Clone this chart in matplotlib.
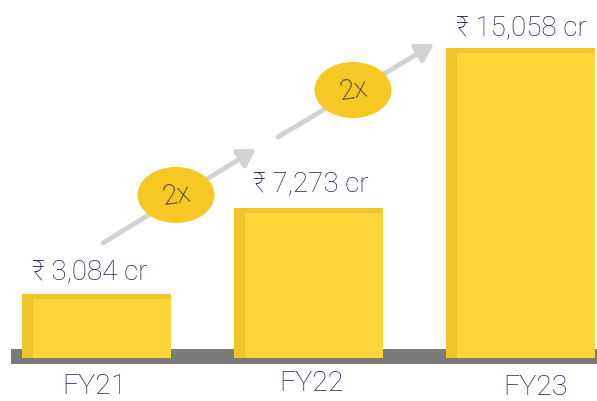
import matplotlib
matplotlib.use("Agg")
import matplotlib.pyplot as plt
from matplotlib.patches import Ellipse, Rectangle, FancyArrowPatch

categories = ["FY21", "FY22", "FY23"]
values = [3084, 7273, 15058]
value_labels = ["₹ 3,084 cr", "₹ 7,273 cr", "₹ 15,058 cr"]
growth_labels = ["2x", "2x"]

W, H = 597, 401
fig = plt.figure(figsize=(W / 100, H / 100), dpi=100)

# pixel-scale helpers (layout)
px_per_unit = 0.0206
zero_px = 358
x0_px, step_px = 96.5, 212

ax = fig.add_axes([0, 0, 1, 1])
ax.set_xlim(-x0_px / step_px, (W - x0_px) / step_px)
ax.set_ylim(-(H - zero_px) / px_per_unit, zero_px / px_per_unit)
ax.axis("off")

navy = "#1C2353"
side_col = "#F1C42B"
front_col = "#FDD43A"
bar_w = 149 / step_px
dx = 11 / step_px
dy = 5 / px_per_unit

# ground strip
ax.add_patch(Rectangle(((11 - x0_px) / step_px, (zero_px - 364) / px_per_unit),
                       (W - 11) / step_px, 15 / px_per_unit,
                       color="#7B7B7B", zorder=1, lw=0))

xs = list(range(len(categories)))
ax.bar(xs, values, width=bar_w, color=side_col, zorder=2, lw=0)
ax.bar([x + dx / 2 for x in xs], [v - dy for v in values], width=bar_w - dx,
       color=front_col, zorder=3, lw=0)

fam = ["Roboto", "DejaVu Sans"]
label_dx = [-0.03, 0.01, 0.005]
label_dy = [15, 17, 12]
for x, v, lab, ddx, ddy in zip(xs, values, value_labels, label_dx, label_dy):
    ax.text(x + ddx, v + ddy / px_per_unit, lab, ha="center", va="baseline",
            fontsize=20, color=navy, family=fam, fontweight="light", zorder=5)

cat_dx = [-0.01, 0.015, 0.07]
cat_base = [394, 391, 395]
for x, c, ddx, b in zip(xs, categories, cat_dx, cat_base):
    ax.text(x + ddx, (zero_px - b) / px_per_unit, c, ha="center", va="baseline",
            fontsize=20.5, color=navy, family=fam, fontweight="light", zorder=5)

# decoration overlay in pixel coordinates
ov = fig.add_axes([0, 0, 1, 1])
ov.set_xlim(0, W)
ov.set_ylim(H, 0)
ov.axis("off")
ov.patch.set_alpha(0)

arrows = [((103, 243), (256, 149)), ((278, 137), (434, 44))]
ells = [(176, 195), (353, 90)]
for (s, e), (cx, cy), g in zip(arrows, ells, growth_labels):
    ov.add_patch(FancyArrowPatch(s, e, arrowstyle="-|>,head_length=10,head_width=6",
                                 color="#D2D2D2", lw=3.5, mutation_scale=1, zorder=1,
                                 shrinkA=0, shrinkB=0))
    ov.add_patch(Ellipse((cx, cy), 77, 56, angle=0, color="#F5C823", zorder=2, lw=0))
    ov.text(cx, cy + 1, g, ha="center", va="center", fontsize=20, rotation=8,
            color=navy, family=fam, fontweight="light", zorder=3)

fig.savefig("out.png", dpi=100)
